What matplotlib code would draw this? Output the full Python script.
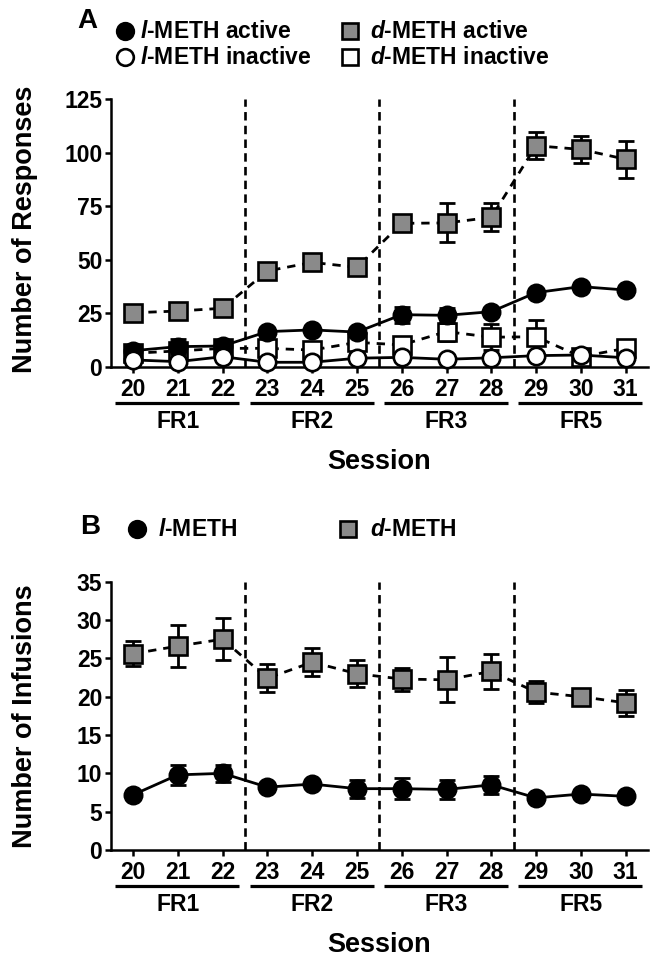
import matplotlib
matplotlib.use("Agg")
import matplotlib.pyplot as plt
import matplotlib.transforms as mtransforms
from matplotlib.lines import Line2D

plt.rcParams['font.family'] = ['Liberation Sans', 'DejaVu Sans']
plt.rcParams['font.weight'] = 'bold'
plt.rcParams['mathtext.fontset'] = 'custom'
plt.rcParams['mathtext.it'] = 'Liberation Sans:italic:bold'
plt.rcParams['mathtext.rm'] = 'Liberation Sans:bold'
plt.rcParams['mathtext.bf'] = 'Liberation Sans:bold'

TICK_FS = 16.5

# ---------------- data ----------------
sessions = [20, 21, 22, 23, 24, 25, 26, 27, 28, 29, 30, 31]
fr_groups = ['FR1', 'FR2', 'FR3', 'FR5']
fr_sessions = [[20, 21, 22], [23, 24, 25], [26, 27, 28], [29, 30, 31]]
phase_breaks = [22.5, 25.5, 28.5]

# Panel A: responses
l_active = [7.6, 9.5, 9.8, 16.5, 17.3, 16.3, 24.4, 24.1, 25.8, 34.7, 37.5, 35.9]
l_active_err = [1.5, 3.5, 3.0, 1.5, 1.5, 1.5, 3.7, 3.4, 1.5, 1.5, 1.5, 1.5]
l_inactive = [3.3, 2.5, 4.8, 2.2, 2.2, 4.1, 4.5, 3.6, 4.3, 5.3, 5.6, 4.3]
l_inactive_err = [1.0, 1.0, 1.2, 1.0, 1.0, 1.0, 1.0, 1.0, 1.0, 1.0, 1.0, 1.0]
d_active = [25.3, 26.1, 27.4, 44.8, 48.8, 46.5, 67.0, 67.2, 69.8, 103.2, 101.5, 96.9]
d_active_err = [1.5, 1.5, 1.5, 1.5, 1.5, 1.5, 3.0, 9.1, 6.6, 6.2, 6.2, 8.6]
d_inactive = [6.4, 7.5, 8.7, 8.7, 7.9, 11.5, 10.3, 16.5, 13.9, 14.1, 4.8, 8.7]
d_inactive_err = [1.0, 1.5, 1.5, 1.5, 1.5, 2.5, 1.5, 4.4, 6.0, 8.0, 1.5, 1.5]

# Panel B: infusions
l_inf = [7.2, 9.8, 10.0, 8.2, 8.6, 8.0, 8.0, 7.9, 8.5, 6.8, 7.3, 7.0]
l_inf_err = [0.4, 1.26, 1.15, 0.5, 0.4, 1.17, 1.35, 1.24, 1.2, 0.4, 0.4, 0.4]
d_inf = [25.6, 26.6, 27.5, 22.4, 24.5, 23.0, 22.3, 22.2, 23.3, 20.6, 20.0, 19.2]
d_inf_err = [1.65, 2.75, 2.7, 1.8, 1.85, 1.75, 1.5, 2.95, 2.3, 1.45, 0.9, 1.7]

yticks_A = [0, 25, 50, 75, 100, 125]
yticks_B = [0, 5, 10, 15, 20, 25, 30, 35]

GRAY = '#8a8a8a'
LW = 2.0
MS = 12.5
MEW = 1.9

W, H = 657, 960
fig = plt.figure(figsize=(W / 100, H / 100), dpi=100)


def px(x, y):
    return x / W, 1 - y / H


def series(ax, y, err, marker, face, ls, z):
    ax.errorbar(sessions, y, yerr=err, fmt='none', ecolor='black',
                elinewidth=LW, capsize=5.5, capthick=LW, zorder=z, clip_on=False)
    ax.plot(sessions, y, color='black', lw=LW, ls=ls, marker=marker, ms=MS,
            mfc=face, mec='black', mew=MEW, zorder=z + 0.5, clip_on=False)


def style_axes(ax, ymax, yticks):
    ax.set_xlim(19.5, 31.5)
    ax.set_ylim(0, ymax)
    for s in ['top', 'right']:
        ax.spines[s].set_visible(False)
    for s in ['left', 'bottom']:
        ax.spines[s].set_linewidth(1.8)
    ax.set_xticks(sessions)
    ax.set_xticklabels([str(s) for s in sessions])
    ax.set_yticks(yticks)
    ax.tick_params(axis='both', direction='out', length=4, width=1.8,
                   labelsize=TICK_FS)
    ax.tick_params(axis='x', pad=4)
    ax.tick_params(axis='y', pad=2)
    for lab in ax.get_xticklabels() + ax.get_yticklabels():
        lab.set_fontweight('bold')
    ax.vlines(phase_breaks, 0, ymax, colors='black', lw=1.9,
              linestyles=(0, (3.2, 2.0)), zorder=1)
    trans = mtransforms.blended_transform_factory(ax.transData, ax.transAxes)
    for name, grp in zip(fr_groups, fr_sessions):
        ax.plot([grp[0] - 0.4, grp[-1] + 0.37], [-0.133, -0.133], color='black',
                lw=2.3, transform=trans, clip_on=False, solid_capstyle='butt')
        ax.text((grp[0] + grp[-1]) / 2, -0.204, name, transform=trans,
                ha='center', va='center', fontsize=TICK_FS, fontweight='bold')
    ax.text(0.5, -0.354, 'Session', transform=ax.transAxes, ha='center',
            va='center', fontsize=19.5, fontweight='bold')


# ---------------- Panel A ----------------
axA = fig.add_axes([110.7 / W, 1 - 367 / H, (648 - 110.7) / W, (367 - 99) / H])
style_axes(axA, 125, yticks_A)
series(axA, d_inactive, d_inactive_err, 's', 'white', (0, (3, 2.5)), 3)
series(axA, d_active, d_active_err, 's', GRAY, (0, (3, 2.5)), 4)
series(axA, l_active, l_active_err, 'o', 'black', '-', 5)
series(axA, l_inactive, l_inactive_err, 'o', 'white', '-', 6)
fig.text(*px(25, 229), 'Number of Responses', rotation=90, ha='center',
         va='center', fontsize=19.5, fontweight='bold')

# ---------------- Panel B ----------------
axB = fig.add_axes([110.7 / W, 1 - 850 / H, (648 - 110.7) / W, (850 - 581.7) / H])
style_axes(axB, 35, yticks_B)
series(axB, d_inf, d_inf_err, 's', GRAY, (0, (3, 2.5)), 3)
series(axB, l_inf, l_inf_err, 'o', 'black', '-', 5)
fig.text(*px(25, 716), 'Number of Infusions', rotation=90, ha='center',
         va='center', fontsize=19.5, fontweight='bold')


# ---------------- legends & panel letters ----------------
def legend_entry(xm, xt, y, marker, face, label):
    fig.add_artist(Line2D([xm / W], [1 - y / H], marker=marker, ms=MS - 0.5,
                          mfc=face, mec='black', mew=MEW, ls='none',
                          transform=fig.transFigure))
    fig.text(xt / W, 1 - y / H, label, ha='left', va='center', fontsize=16.5,
             fontweight='bold')


fig.text(*px(87, 21), 'A', ha='center', va='center', fontsize=20, fontweight='bold')
legend_entry(125, 140, 31, 'o', 'black', r'$l$-METH active')
legend_entry(125, 140, 57, 'o', 'white', r'$l$-METH inactive')
legend_entry(350, 370, 31, 's', GRAY, r'$d$-METH active')
legend_entry(350, 370, 57, 's', 'white', r'$d$-METH inactive')

fig.text(*px(90, 527), 'B', ha='center', va='center', fontsize=20, fontweight='bold')
legend_entry(137, 158, 529, 'o', 'black', r'$l$-METH')
legend_entry(348, 370, 529, 's', GRAY, r'$d$-METH')

fig.savefig('out.png', dpi=100)
